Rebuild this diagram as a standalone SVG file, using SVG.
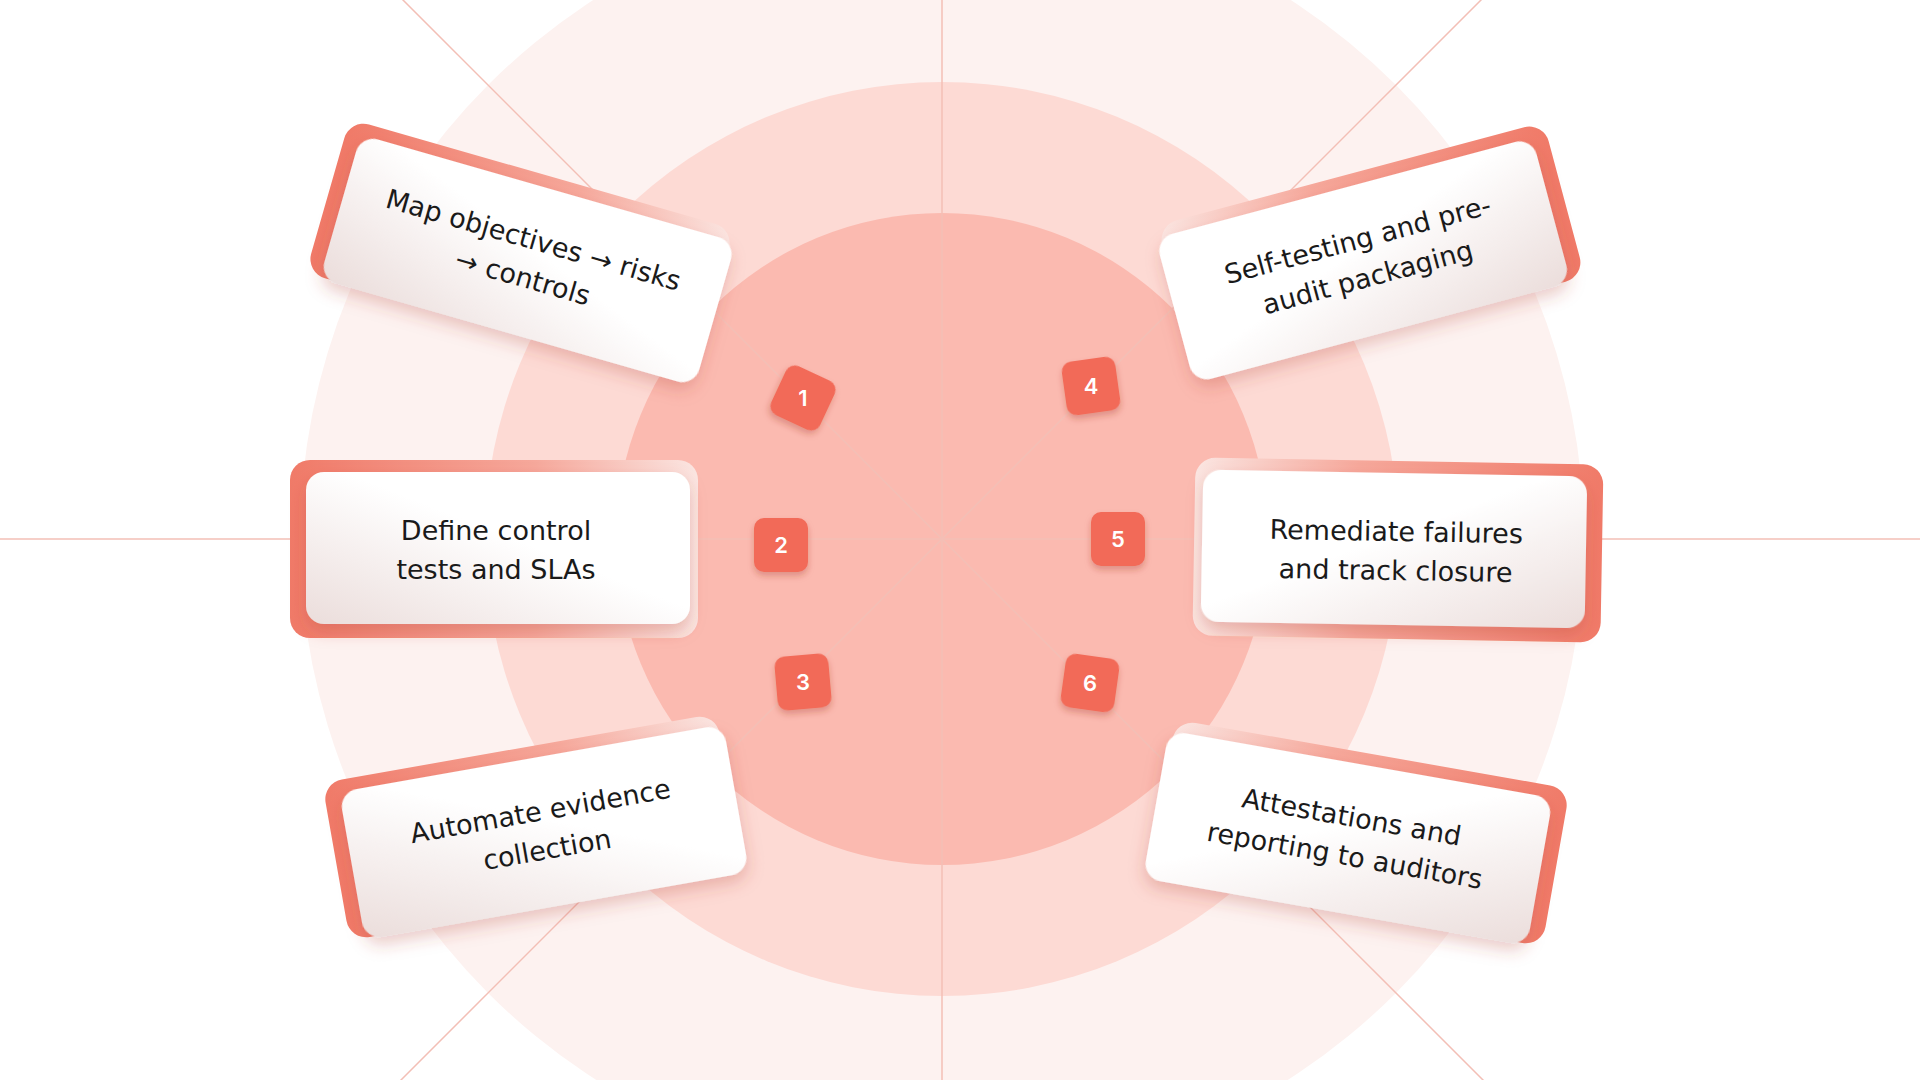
<svg xmlns="http://www.w3.org/2000/svg" width="1920" height="1080" viewBox="0 0 1920 1080">
<defs>
<linearGradient id="front" x1="0" y1="1" x2="1" y2="0"><stop offset="0" stop-color="#EBDDDB"/><stop offset="0.55" stop-color="#FFFFFF"/><stop offset="1" stop-color="#FFFFFF"/></linearGradient>
<linearGradient id="back" x1="0" y1="0" x2="1" y2="0"><stop offset="0" stop-color="#F07A68"/><stop offset="0.6" stop-color="#F6A89B"/><stop offset="1" stop-color="#FBE6E2"/></linearGradient>
<filter id="sh" x="-20%" y="-30%" width="140%" height="160%"><feDropShadow dx="0" dy="8" stdDeviation="8" flood-color="#B04030" flood-opacity="0.25"/></filter>
<filter id="bsh" x="-40%" y="-40%" width="180%" height="180%"><feDropShadow dx="0" dy="4" stdDeviation="3" flood-color="#A03020" flood-opacity="0.3"/></filter>
</defs>
<style>
.t{font-family:"DejaVu Sans","Noto Sans",sans-serif;font-size:27px;fill:#1a1a1a;text-anchor:middle}
.b{font-family:"Inter","Noto Sans",sans-serif;font-size:22px;fill:#fff;text-anchor:middle;font-weight:600}
.ln{stroke:#F3BFB6;stroke-width:1.5;fill:none}
</style>
<rect width="1920" height="1080" fill="#FFFFFF"/>
<circle cx="942" cy="539" r="642" fill="#FDF2F0"/>
<circle cx="942" cy="539" r="457" fill="#FDDAD4"/>
<circle cx="942" cy="539" r="326" fill="#FBBAB0"/>
<g id="connectors">
<line class="ln" x1="942" y1="0" x2="942" y2="1080"/>
<line class="ln" x1="0" y1="539" x2="1920" y2="539"/>
<line class="ln" x1="400" y1="-3" x2="1484" y2="1081"/>
<line class="ln" x1="1484" y1="-3" x2="400" y2="1081"/>
</g>
<g id="card1" transform="translate(520,251) rotate(16)"><rect x="-200" y="-80" width="400" height="160" rx="20" fill="url(#back)"/><rect x="-185" y="-68" width="390" height="150" rx="18" fill="url(#front)" filter="url(#sh)"/><text class="t" x="10" y="-5">Map objectives → risks</text><text class="t" x="10" y="34">→ controls</text></g>
<g id="card2" transform="translate(496,546)"><rect x="-206" y="-86" width="408" height="178" rx="20" fill="url(#back)"/><rect x="-190" y="-74" width="384" height="152" rx="18" fill="url(#front)" filter="url(#sh)"/><text class="t" x="0" y="-6">Define control</text><text class="t" x="0" y="33">tests and SLAs</text></g>
<g id="card3" transform="translate(533,827) rotate(-10)"><rect x="-200" y="-80" width="400" height="160" rx="20" fill="url(#back)"/><rect x="-185" y="-68" width="390" height="150" rx="18" fill="url(#front)" filter="url(#sh)"/><text class="t" x="10" y="-5">Automate evidence</text><text class="t" x="10" y="34">collection</text></g>
<g id="card4" transform="translate(1371,251) rotate(-15) scale(-1,1)"><rect x="-200" y="-80" width="400" height="160" rx="20" fill="url(#back)"/><rect x="-185" y="-68" width="390" height="150" rx="18" fill="url(#front)" filter="url(#sh)"/><g transform="scale(-1,1)"><text class="t" x="-10" y="-5">Self-testing and pre-</text><text class="t" x="-10" y="34">audit packaging</text></g></g>
<g id="card5" transform="translate(1396,547) rotate(1) scale(-1,1)"><rect x="-206" y="-86" width="408" height="178" rx="20" fill="url(#back)"/><rect x="-190" y="-74" width="384" height="152" rx="18" fill="url(#front)" filter="url(#sh)"/><g transform="scale(-1,1)"><text class="t" x="0" y="-6">Remediate failures</text><text class="t" x="0" y="33">and track closure</text></g></g>
<g id="card6" transform="translate(1359,833) rotate(10) scale(-1,1)"><rect x="-200" y="-80" width="400" height="160" rx="20" fill="url(#back)"/><rect x="-185" y="-68" width="390" height="150" rx="18" fill="url(#front)" filter="url(#sh)"/><g transform="scale(-1,1)"><text class="t" x="-10" y="-5">Attestations and</text><text class="t" x="-10" y="34">reporting to auditors</text></g></g>
<g id="badge1" transform="translate(803,398) rotate(25)"><rect x="-27" y="-27" width="54" height="54" rx="10" fill="#F26B58" filter="url(#bsh)"/><text class="b" transform="rotate(-25)" y="8">1</text></g>
<g id="badge2" transform="translate(781,545)"><rect x="-27" y="-27" width="54" height="54" rx="10" fill="#F26B58" filter="url(#bsh)"/><text class="b" y="8">2</text></g>
<g id="badge3" transform="translate(803,682) rotate(-5)"><rect x="-27" y="-27" width="54" height="54" rx="10" fill="#F26B58" filter="url(#bsh)"/><text class="b" transform="rotate(5)" y="8">3</text></g>
<g id="badge4" transform="translate(1091,386) rotate(-8)"><rect x="-27" y="-27" width="54" height="54" rx="10" fill="#F26B58" filter="url(#bsh)"/><text class="b" transform="rotate(8)" y="8">4</text></g>
<g id="badge5" transform="translate(1118,539)"><rect x="-27" y="-27" width="54" height="54" rx="10" fill="#F26B58" filter="url(#bsh)"/><text class="b" y="8">5</text></g>
<g id="badge6" transform="translate(1090,683) rotate(8)"><rect x="-27" y="-27" width="54" height="54" rx="10" fill="#F26B58" filter="url(#bsh)"/><text class="b" transform="rotate(-8)" y="8">6</text></g>
</svg>
